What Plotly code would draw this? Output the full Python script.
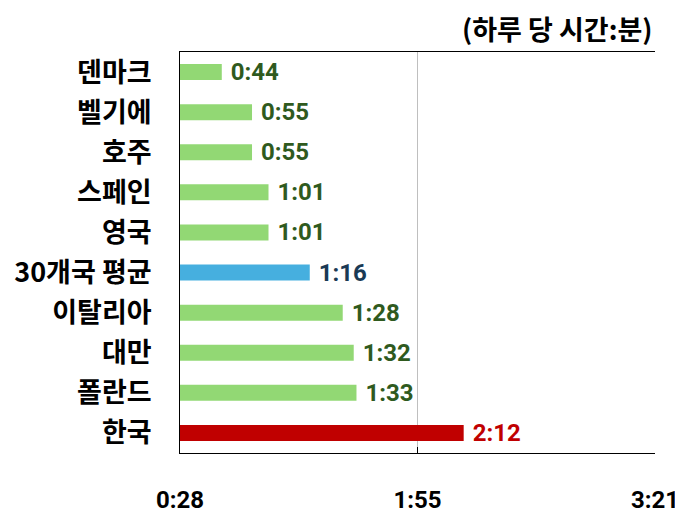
import plotly.graph_objects as go

categories = ["덴마크", "벨기에", "호주", "스페인", "영국", "30개국 평균", "이탈리아", "대만", "폴란드", "한국"]
minutes = [44, 55, 55, 61, 61, 76, 88, 92, 93, 132]
labels = ["0:44", "0:55", "0:55", "1:01", "1:01", "1:16", "1:28", "1:32", "1:33", "2:12"]
tick_vals = [28.8, 115.2, 201.6]
tick_text = ["0:28", "1:55", "3:21"]

NUMFONT = "Roboto, Liberation Sans"

bar_colors = []
text_colors = []
for c in categories:
    if c == "한국":
        bar_colors.append("#C00000"); text_colors.append("#C00000")
    elif c == "30개국 평균":
        bar_colors.append("#46AFDF"); text_colors.append("#1A3A55")
    else:
        bar_colors.append("#92D874"); text_colors.append("#2F5A1E")

fig = go.Figure(go.Bar(
    y=categories, x=minutes, orientation="h",
    marker=dict(color=bar_colors, line=dict(width=0)),
    width=0.4,
    text=labels, texttemplate=" %{text}",
    textposition="outside", cliponaxis=False, constraintext="none",
    textfont=dict(family=NUMFONT, size=24, color=text_colors, weight="bold"),
    hoverinfo="skip",
))

# page body has an 8px margin, so the figure is shifted; compensate
fig.update_layout(
    width=675, height=507,
    margin=dict(l=172, r=28, t=44, b=62, autoexpand=False),
    plot_bgcolor="white", paper_bgcolor="white",
    showlegend=False,
    font=dict(family="Noto Sans CJK KR", color="black"),
    xaxis=dict(
        range=[28.8, 201.6], tickvals=tick_vals, ticktext=tick_text,
        showgrid=True, gridcolor="#BFBFBF", gridwidth=1,
        showline=True, linecolor="black", linewidth=1, mirror=True,
        ticks="inside", ticklen=6, tickcolor="black",
        tickfont=dict(family=NUMFONT, size=24, color="black", weight="bold"),
        ticklabelstandoff=25, zeroline=False, automargin=False,
    ),
    yaxis=dict(
        autorange="reversed", showline=True, linecolor="black", linewidth=1,
        tickfont=dict(family="Noto Sans CJK KR", size=27, color="black", weight="bold"),
        ticklabelstandoff=22, ticks="", automargin=False,
    ),
    annotations=[dict(
        text="<b>(하루 당 시간:분)</b>", xref="paper", yref="paper",
        x=1.0, y=1.0, xanchor="right", yanchor="bottom", yshift=2, showarrow=False,
        font=dict(family="Noto Sans CJK KR", size=27, color="black"),
    )],
)

fig.write_html("out.html")
